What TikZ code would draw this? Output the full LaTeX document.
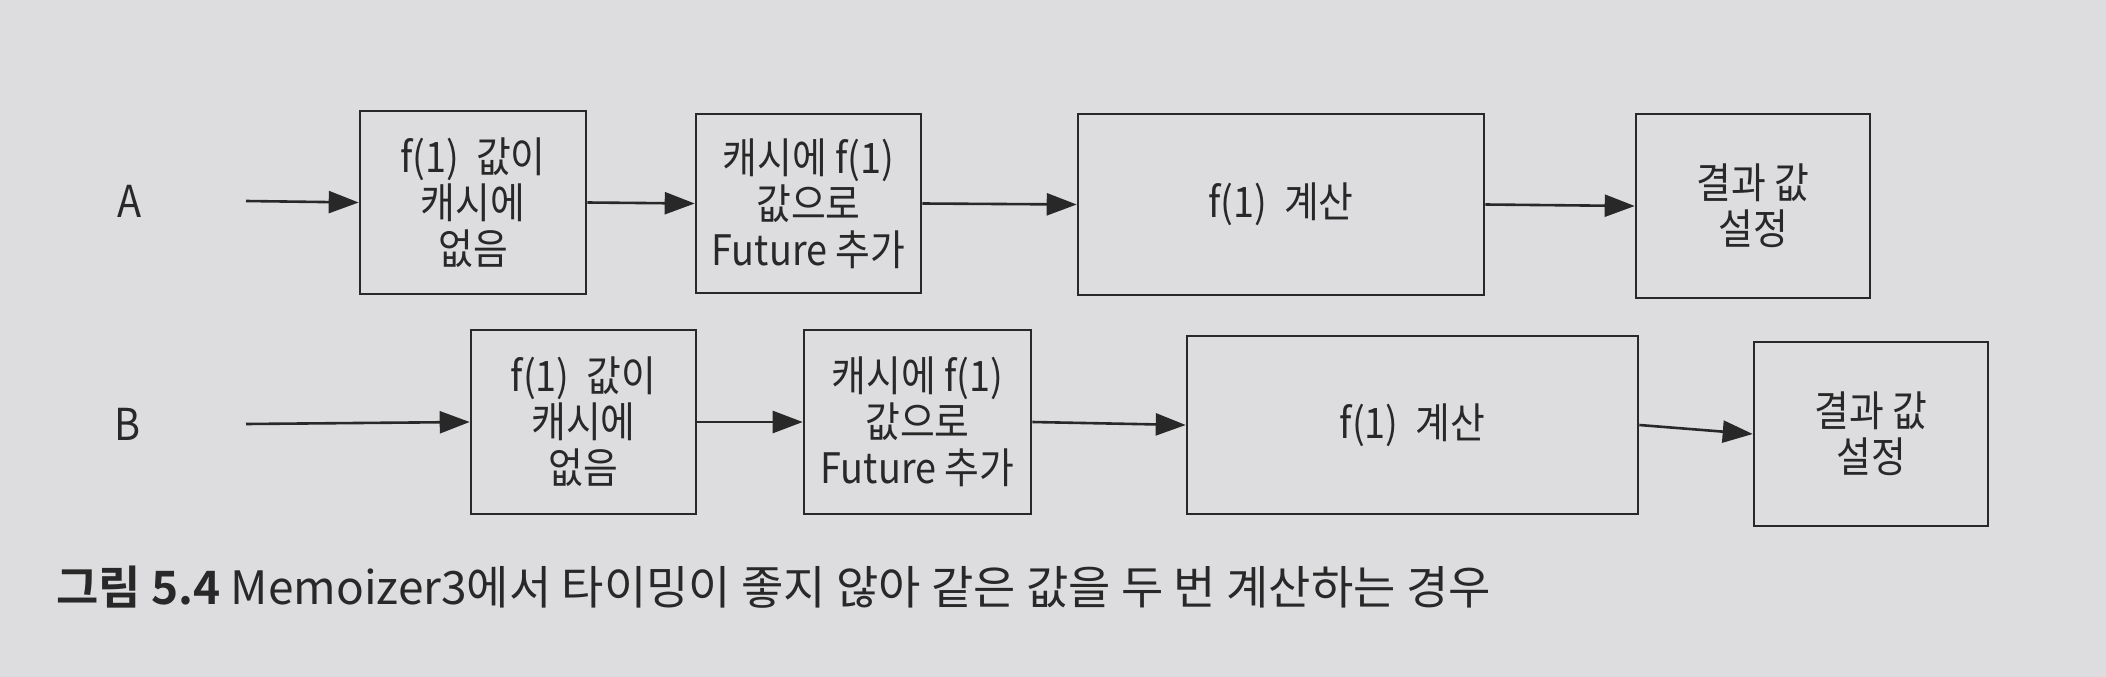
\documentclass[tikz,border=0pt]{standalone}
\usepackage{fontspec}
\setmainfont{Noto Sans CJK KR}[BoldFont={Noto Sans CJK KR Bold}]
\newfontfamily\boxfont{Noto Sans CJK KR}[FakeStretch=0.9]
\usetikzlibrary{arrows.meta}
\definecolor{paper}{RGB}{221,221,223}
\definecolor{ink}{RGB}{40,40,40}
\tikzset{
  stepbox/.style={draw=ink, line width=2.6pt, inner sep=0pt, align=center, text=ink,
    font=\boxfont\fontsize{42}{46}\selectfont},
  flow/.style={draw=ink, line width=2.6pt, -{Triangle[length=30pt,width=22pt]}},
  rowlabel/.style={text=ink, font=\boxfont\fontsize{44}{48}\selectfont}
}
\begin{document}
\begin{tikzpicture}[x=1pt,y=-1pt]
\fill[paper] (0,0) rectangle (2106,677);
\useasboundingbox (0,0) rectangle (2106,677);
% row A
\node[rowlabel] (la) at (130,201) {A};
\coordinate (sa) at (246,201);
\node[stepbox, minimum width=226pt, minimum height=183pt] (a1) at (473,202.5) {f(1)\ \ 값이\\캐시에\\없음};
\node[stepbox, minimum width=225pt, minimum height=179pt] (a2) at (808.5,203.5) {캐시에 f(1)\\값으로\\Future 추가};
\node[stepbox, minimum width=406pt, minimum height=181pt] (a3) at (1281,204.5) {f(1)\ \ 계산};
\node[stepbox, minimum width=234pt, minimum height=184pt] (a4) at (1753,206) {결과 값\\설정};
\draw[flow] (sa) -- (a1.west);
\draw[flow] (a1.east) -- (a2.west);
\draw[flow] (a2.east) -- (a3.west);
\draw[flow] (a3.east) -- (a4.west);
% row B
\node[rowlabel] (lb) at (128,424) {B};
\coordinate (sb) at (246,424);
\node[stepbox, minimum width=225pt, minimum height=184pt] (b1) at (583.5,422) {f(1)\ \ 값이\\캐시에\\없음};
\node[stepbox, minimum width=227pt, minimum height=184pt] (b2) at (917.5,422) {캐시에 f(1)\\값으로\\Future 추가};
\node[stepbox, minimum width=451pt, minimum height=178pt] (b3) at (1412.5,425) {f(1)\ \ 계산};
\node[stepbox, minimum width=234pt, minimum height=184pt] (b4) at (1871,434) {결과 값\\설정};
\draw[flow] (sb) -- (b1.west);
\draw[flow] (b1.east) -- (b2.west);
\draw[flow] (b2.east) -- (b3.west);
\draw[flow] (b3.east) -- (b4.west);
% caption
\node[anchor=west, inner sep=0pt, text=ink, font=\fontsize{46}{50}\selectfont] (cap) at (56,587)
  {\textbf{그림 5.4} Memoizer3에서 타이밍이 좋지 않아 같은 값을 두 번 계산하는 경우};
\end{tikzpicture}
\end{document}
